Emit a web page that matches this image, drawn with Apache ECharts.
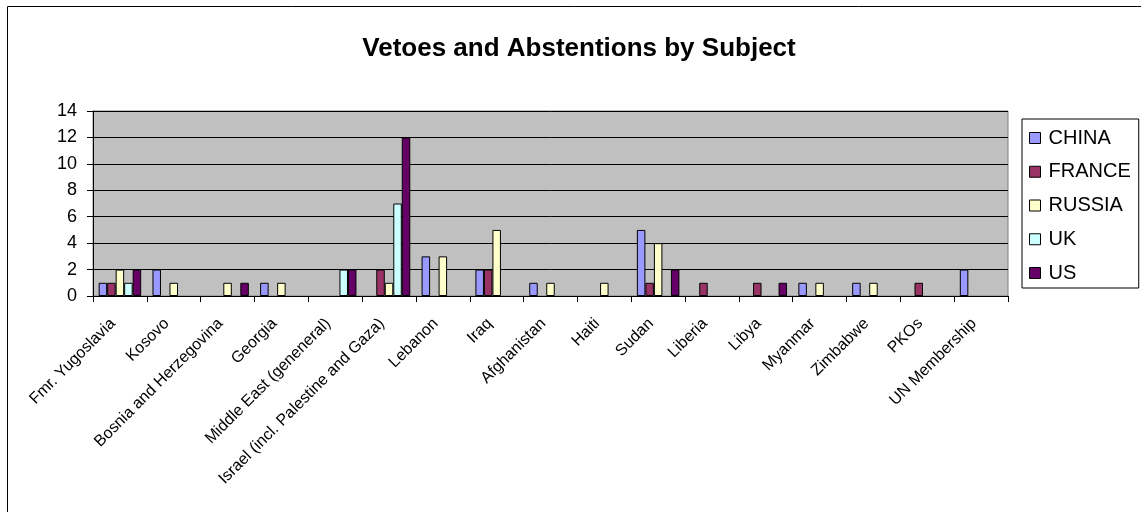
<!DOCTYPE html>
<html>
<head>
<meta charset="utf-8">
<title>Vetoes and Abstentions by Subject</title>
<script src="https://cdn.jsdelivr.net/npm/echarts@6/dist/echarts.min.js"></script>
<style>
  html, body { margin: 0; padding: 0; background: #ffffff; }
  #chart { width: 1141px; height: 512px; }
</style>
</head>
<body>
<div id="chart"></div>
<script>
// Subjects of Security Council resolutions
const subjects = [
  'Fmr. Yugoslavia', 'Kosovo', 'Bosnia and Herzegovina', 'Georgia',
  'Middle East (geneneral)', 'Israel (incl. Palestine and Gaza)', 'Lebanon',
  'Iraq', 'Afghanistan', 'Haiti', 'Sudan', 'Liberia', 'Libya', 'Myanmar',
  'Zimbabwe', 'PKOs', 'UN Membership'
];

// Vetoes and abstentions per permanent member, one value per subject
const china  = [1, 2, 0, 1, 0, 0, 3, 2, 1, 0, 5, 0, 0, 1, 1, 0, 2];
const france = [1, 0, 0, 0, 0, 2, 0, 2, 0, 0, 1, 1, 1, 0, 0, 1, 0];
const russia = [2, 1, 1, 1, 0, 1, 3, 5, 1, 1, 4, 0, 0, 1, 1, 0, 0];
const uk     = [1, 0, 0, 0, 2, 7, 0, 0, 0, 0, 0, 0, 0, 0, 0, 0, 0];
const us     = [2, 0, 1, 0, 2, 12, 0, 0, 0, 0, 2, 0, 1, 0, 0, 0, 0];

const seriesNames = ['CHINA', 'FRANCE', 'RUSSIA', 'UK', 'US'];
const seriesData = [china, france, russia, uk, us];
const seriesColors = ['#9999FF', '#993366', '#FFFFCC', '#CCFFFF', '#660066'];

// Value axis range
const yMin = 0;
const yMax = 14;
const yStep = 2;

const FONT = "'Liberation Sans', Arial, sans-serif";

// Zero counts draw no bar at all (an outlined empty bar would show as a line)
const asBars = values => values.map(v => (v === 0 ? '-' : v));

const chart = echarts.init(document.getElementById('chart'), null, { renderer: 'canvas' });

chart.setOption({
  animation: false,
  backgroundColor: '#ffffff',
  title: {
    text: 'Vetoes and Abstentions by Subject',
    left: 574,
    top: 31,
    textAlign: 'center',
    textStyle: { fontFamily: FONT, fontSize: 26, fontWeight: 'bold', color: '#000000' }
  },
  legend: {
    orient: 'vertical',
    left: 1022,
    top: 119,
    padding: [9, 8, 5, 7],
    itemWidth: 11,
    itemHeight: 11,
    itemGap: 13.75,
    backgroundColor: '#ffffff',
    borderColor: '#000000',
    borderWidth: 1,
    icon: 'rect',
    itemStyle: { borderColor: '#000000', borderWidth: 1 },
    textStyle: { fontFamily: FONT, fontSize: 20, color: '#000000', lineHeight: 20, padding: [0, 0, 0, 3] },
    data: seriesNames
  },
  grid: {
    left: 93,
    right: 133,
    top: 111,
    bottom: 216,
    show: true,
    backgroundColor: '#C0C0C0',
    borderColor: '#808080',
    borderWidth: 1,
    containLabel: false
  },
  xAxis: {
    type: 'category',
    data: subjects,
    boundaryGap: true,
    axisLine: { show: true, lineStyle: { color: '#000000', width: 1 } },
    axisTick: { show: true, length: 6, inside: false, lineStyle: { color: '#000000' } },
    axisLabel: {
      interval: 0,
      rotate: 45,
      margin: 18,
      padding: [0, 10, 0, 0],
      fontFamily: FONT,
      fontSize: 16,
      color: '#000000'
    },
    splitLine: { show: false }
  },
  yAxis: {
    type: 'value',
    min: yMin,
    max: yMax,
    interval: yStep,
    axisLine: { show: true, lineStyle: { color: '#000000', width: 1 } },
    axisTick: { show: true, length: 6, inside: false, lineStyle: { color: '#000000' } },
    axisLabel: { margin: 16, fontFamily: FONT, fontSize: 18, color: '#000000' },
    splitLine: { show: true, lineStyle: { color: '#000000', width: 1 } }
  },
  series: seriesNames.map((name, i) => ({
    name: name,
    type: 'bar',
    data: asBars(seriesData[i]),
    barGap: '0%',
    barCategoryGap: '21%',
    itemStyle: { color: seriesColors[i], borderColor: '#000000', borderWidth: 1 }
  })),
  graphic: [
    {
      type: 'rect',
      silent: true,
      shape: { x: 7.5, y: 6.5, width: 1150, height: 520 },
      style: { fill: null, stroke: '#000000', lineWidth: 1 }
    }
  ]
});
</script>
</body>
</html>
